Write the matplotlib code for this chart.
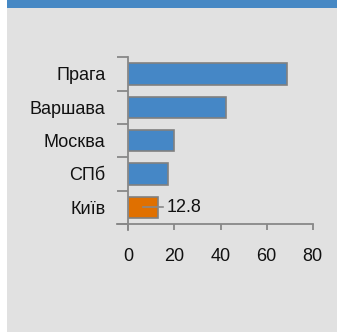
import matplotlib
matplotlib.use("Agg")
import matplotlib.pyplot as plt
from matplotlib.lines import Line2D
from matplotlib.patches import Rectangle

cities = ["Прага", "Варшава", "Москва", "СПб", "Київ"]
values = [69.0, 42.2, 19.8, 17.4, 12.8]
highlight = "Київ"
x_ticks = [0, 20, 40, 60, 80]

plt.rcParams["font.family"] = ["Liberation Sans", "DejaVu Sans"]

W, H = 337, 332
dpi = 100
fig = plt.figure(figsize=(W / dpi, H / dpi), dpi=dpi)
fig.patch.set_facecolor("white")

# background panel and header band
fig.add_artist(Rectangle((7 / W, 0), 1 - 7 / W, 1 - 8 / H, transform=fig.transFigure,
                         facecolor="#e1e1e1", edgecolor="none", zorder=0))
fig.add_artist(Rectangle((7 / W, 1 - 8 / H), 1 - 7 / W, 8 / H, transform=fig.transFigure,
                         facecolor="#4688c4", edgecolor="none", zorder=0))

left, right = 128.3 / W, 312.7 / W
bottom, top = 1 - 224 / H, 1 - 57.3 / H
ax = fig.add_axes([left, bottom, right - left, top - bottom])
ax.set_facecolor("none")

blue = "#4587c6"
orange = "#e07000"
edge = "#808080"
colors = [orange if c == highlight else blue for c in cities]
ypos = list(range(len(cities)))
ax.barh(ypos, values, height=0.64, color=colors, edgecolor=edge, linewidth=1.2, zorder=2)

ax.set_xlim(0, 80)
ax.set_ylim(len(cities) - 0.5, -0.5)

for s in ax.spines.values():
    s.set_visible(False)

axis_col = "#888888"
# y axis line extended past the x axis, x axis line extended left of the y axis
ax.add_line(Line2D([0, 0], [-6 / (224 - 57.3), 1], transform=ax.transAxes,
                   color=axis_col, lw=1.3, clip_on=False))
ax.add_line(Line2D([-11 / (312.7 - 128.3), 1], [0, 0], transform=ax.transAxes,
                   color=axis_col, lw=1.3, clip_on=False))

fs = 13
ax.set_yticks(ypos)
ax.set_yticklabels(cities, fontsize=fs, color="#111111")
ax.set_yticks([i - 0.5 for i in range(len(cities) + 1)], minor=True)
ax.tick_params(axis="y", which="major", length=0, pad=16.5)
ax.tick_params(axis="y", which="minor", length=8, width=1.3, color=axis_col, direction="out")

ax.set_xticks(x_ticks)
ax.set_xticklabels([str(t) for t in x_ticks], fontsize=fs, color="#111111")
ax.tick_params(axis="x", which="major", length=4.5, width=1.3, color=axis_col, pad=12.5)

# value label for the highlighted bar with a short leader line
i = cities.index(highlight)
v = values[i]
ax.add_line(Line2D([v * 0.5, v * 0.5 + 20 / 2.305], [i, i], color=axis_col, lw=1.2, zorder=3))
ax.text(v * 0.5 + 24 / 2.305, i, f"{v:g}", fontsize=fs, va="center", ha="left", color="#111111")

fig.savefig("out.png", dpi=dpi, facecolor=fig.get_facecolor())
